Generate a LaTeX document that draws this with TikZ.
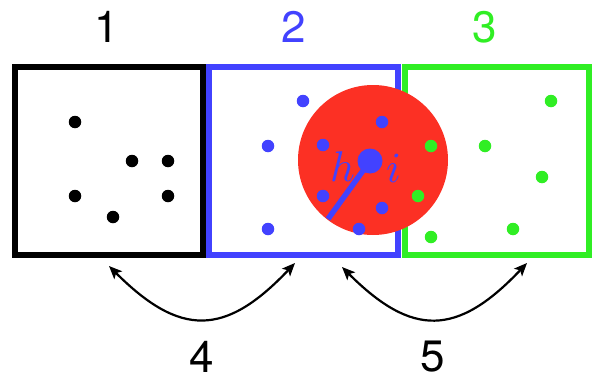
\documentclass[tikz,border=0pt]{standalone}
\usepackage{fontspec}
\setsansfont{TeX Gyre Heros}
\usepackage{unicode-math}
\setmathfont{Latin Modern Math}
\usetikzlibrary{arrows.meta}
\definecolor{myblue}{RGB}{66,66,255}
\definecolor{mygreen}{RGB}{48,238,36}
\definecolor{myred}{RGB}{252,48,36}
\begin{document}
\begin{tikzpicture}[x=1pt,y=-1pt,
  frame/.style={draw,rectangle,line width=6pt,inner sep=0pt},
  dot/.style={circle,inner sep=0pt,minimum size=12.5pt},
  lab/.style={font=\sffamily\fontsize{44}{44}\selectfont,inner sep=0pt},
  var/.style={text=myblue,inner sep=0pt,font=\fontsize{43}{43}\selectfont},
  swaparrow/.style={<->,>={Stealth[length=13pt,width=11pt,inset=3pt]},line width=2.2pt}]
\useasboundingbox (0,0) rectangle (592,375);

% boxes
\node[frame,draw=black,minimum width=188pt,minimum height=188pt] (b1) at (109,161) {};
\node[frame,draw=myblue,minimum width=189pt,minimum height=188pt] (b2) at (303.5,161) {};
\node[frame,draw=mygreen,minimum width=184pt,minimum height=188pt] (b3) at (497,161) {};

% labels
\node[lab,text=black] (l1) at (107,27) {1};
\node[lab,text=myblue] (l2) at (294,27) {2};
\node[lab,text=mygreen] (l3) at (485,27) {3};
\node[lab,text=black] (l4) at (202,357) {4};
\node[lab,text=black] (l5) at (433,357) {5};

% black dots
\node[dot,fill=black] (k1) at (75,122) {};
\node[dot,fill=black] (k2) at (132,161) {};
\node[dot,fill=black] (k3) at (168,161) {};
\node[dot,fill=black] (k4) at (75,196) {};
\node[dot,fill=black] (k5) at (168,196) {};
\node[dot,fill=black] (k6) at (113,217) {};

% red neighbourhood
\node[circle,fill=myred,inner sep=0pt,minimum size=150pt] (red) at (373,160) {};

% blue dots
\node[dot,fill=myblue] (u1) at (303,101) {};
\node[dot,fill=myblue] (u2) at (268,146) {};
\node[dot,fill=myblue] (u3) at (268,229) {};
\node[dot,fill=myblue] (u4) at (382,122) {};
\node[dot,fill=myblue] (u5) at (323,145) {};
\node[dot,fill=myblue] (u6) at (323,196) {};
\node[dot,fill=myblue] (u7) at (382,208) {};
\node[dot,fill=myblue] (u8) at (359,229) {};

% green dots
\node[dot,fill=mygreen] (g1) at (431,146) {};
\node[dot,fill=mygreen] (g2) at (418,196) {};
\node[dot,fill=mygreen] (g3) at (431,237) {};
\node[dot,fill=mygreen] (g4) at (485,146) {};
\node[dot,fill=mygreen] (g5) at (551,101) {};
\node[dot,fill=mygreen] (g6) at (542,177) {};
\node[dot,fill=mygreen] (g7) at (513,229) {};

% radius and centre
\coordinate (rend) at (328,219);
\coordinate (cc) at (370,161);
\draw[myblue,line width=5.5pt] (cc) -- (rend);
\node[circle,fill=myblue,inner sep=0pt,minimum size=25pt] (ctr) at (cc) {};
\node[var] (h) at (343,167) {$h$};
\node[var] (i) at (394,169) {$i$};

% swap arrows
\coordinate (p1) at (109,266);
\coordinate (p2) at (295,263);
\coordinate (p3) at (342,267);
\coordinate (p4) at (527,263);
\draw[swaparrow] (p1) .. controls (180,337) and (225,337) .. (p2);
\draw[swaparrow] (p3) .. controls (412,337) and (457,337) .. (p4);
\end{tikzpicture}
\end{document}
